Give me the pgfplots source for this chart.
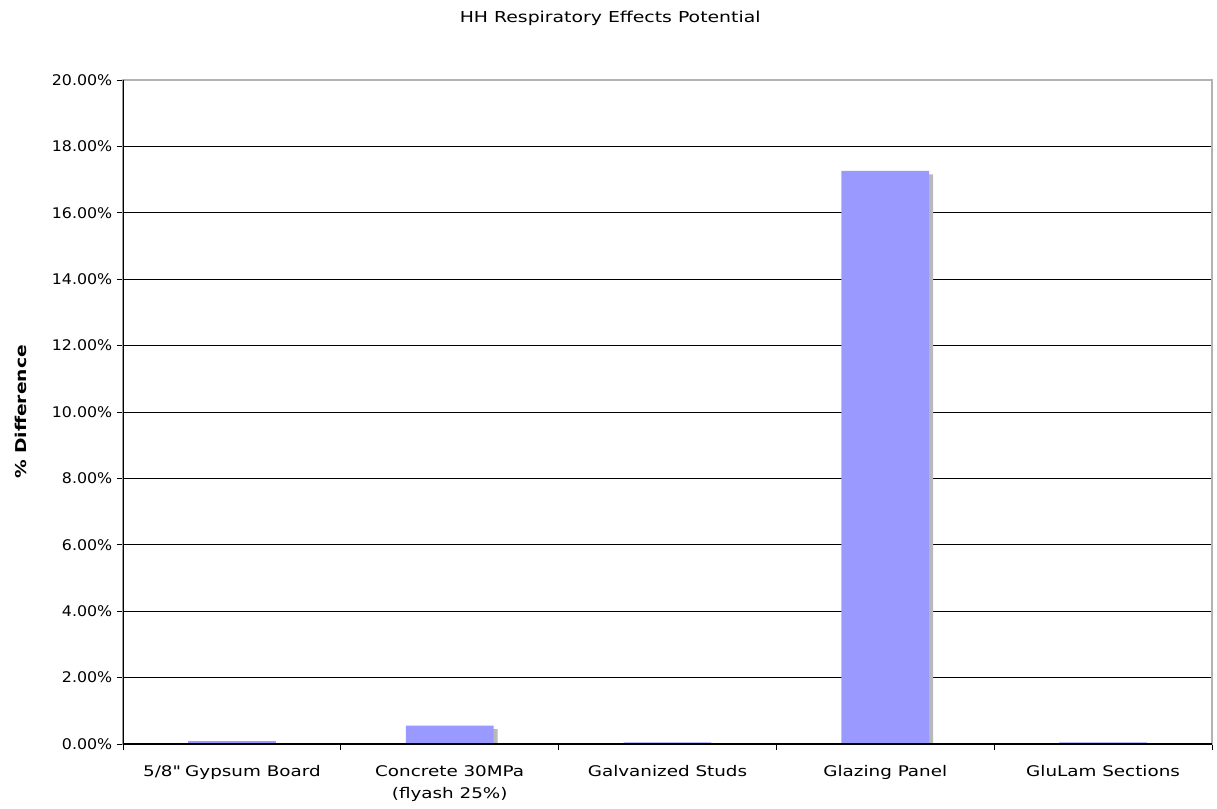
\documentclass[border=0pt]{standalone}
\usepackage{pgfplots}
\pgfplotsset{compat=1.18}
\usepackage{fontspec}
\setmainfont{DejaVu Sans}[FakeStretch=1.25]
\newfontfamily\numfont{DejaVu Sans}[FakeStretch=1.08]
\usetikzlibrary{shadows}
\definecolor{barblue}{HTML}{9999FF}
\begin{document}
\begin{tikzpicture}
\begin{axis}[
  at={(0,0)}, anchor=south west,
  scale only axis, width=816.75pt, height=498pt,
  xmin=-0.5, xmax=4.5, ymin=0, ymax=20,
  ybar, bar width=65.8pt,
  xtick={0,1,2,3,4},
  xticklabels={5/8\textquotedbl{} Gypsum Board, Concrete 30MPa\\(flyash 25\%), Galvanized Studs, Glazing Panel, GluLam Sections},
  xticklabel style={align=center, font=\fontsize{11}{17}\selectfont, yshift=-8pt},
  major x tick style={draw=none},
  minor xtick={-0.5,0.5,1.5,2.5,3.5,4.5},
  minor x tick style={black, line width=0.6pt},
  minor tick length=4.5pt,
  xtick pos=bottom, ytick pos=left,
  tick align=outside,
  ytick={0,2,...,20},
  major tick length=4.5pt,
  y tick style={black, line width=0.6pt},
  yticklabel={\pgfmathprintnumber[fixed, fixed zerofill, precision=2]{\tick}\%},
  yticklabel style={font=\numfont\fontsize{11}{13}\selectfont},
  /pgf/number format/assume math mode=true,
  ymajorgrids, grid style={black, line width=0.6pt},
  axis line style={draw=gray!60, line width=0.8pt},
  ylabel={\textbf{\% Difference}},
  ylabel style={at={(axis description cs:0,0.5)}, anchor=center, yshift=76.5pt, font=\fontsize{11.2}{13}\selectfont},
  title={HH Respiratory Effects Potential},
  title style={at={(axis description cs:0.5,1)}, anchor=center, xshift=-43pt, yshift=40pt, font=\fontsize{11.3}{13}\selectfont},
]
\addplot[fill=barblue, draw=none, drop shadow={shadow xshift=3pt, shadow yshift=-2.5pt, fill=gray!55, opacity=1}]
  coordinates {(0,0.09) (1,0.55) (2,0.05) (3,17.26) (4,0.05)};
\draw[black, line width=0.8pt] (rel axis cs:0,1) -- (rel axis cs:0,0) -- (rel axis cs:1,0);
\end{axis}
\pgfresetboundingbox
\path[use as bounding box] (-92.25pt,-48pt) rectangle (820.5pt,558pt);
\end{tikzpicture}
\end{document}
